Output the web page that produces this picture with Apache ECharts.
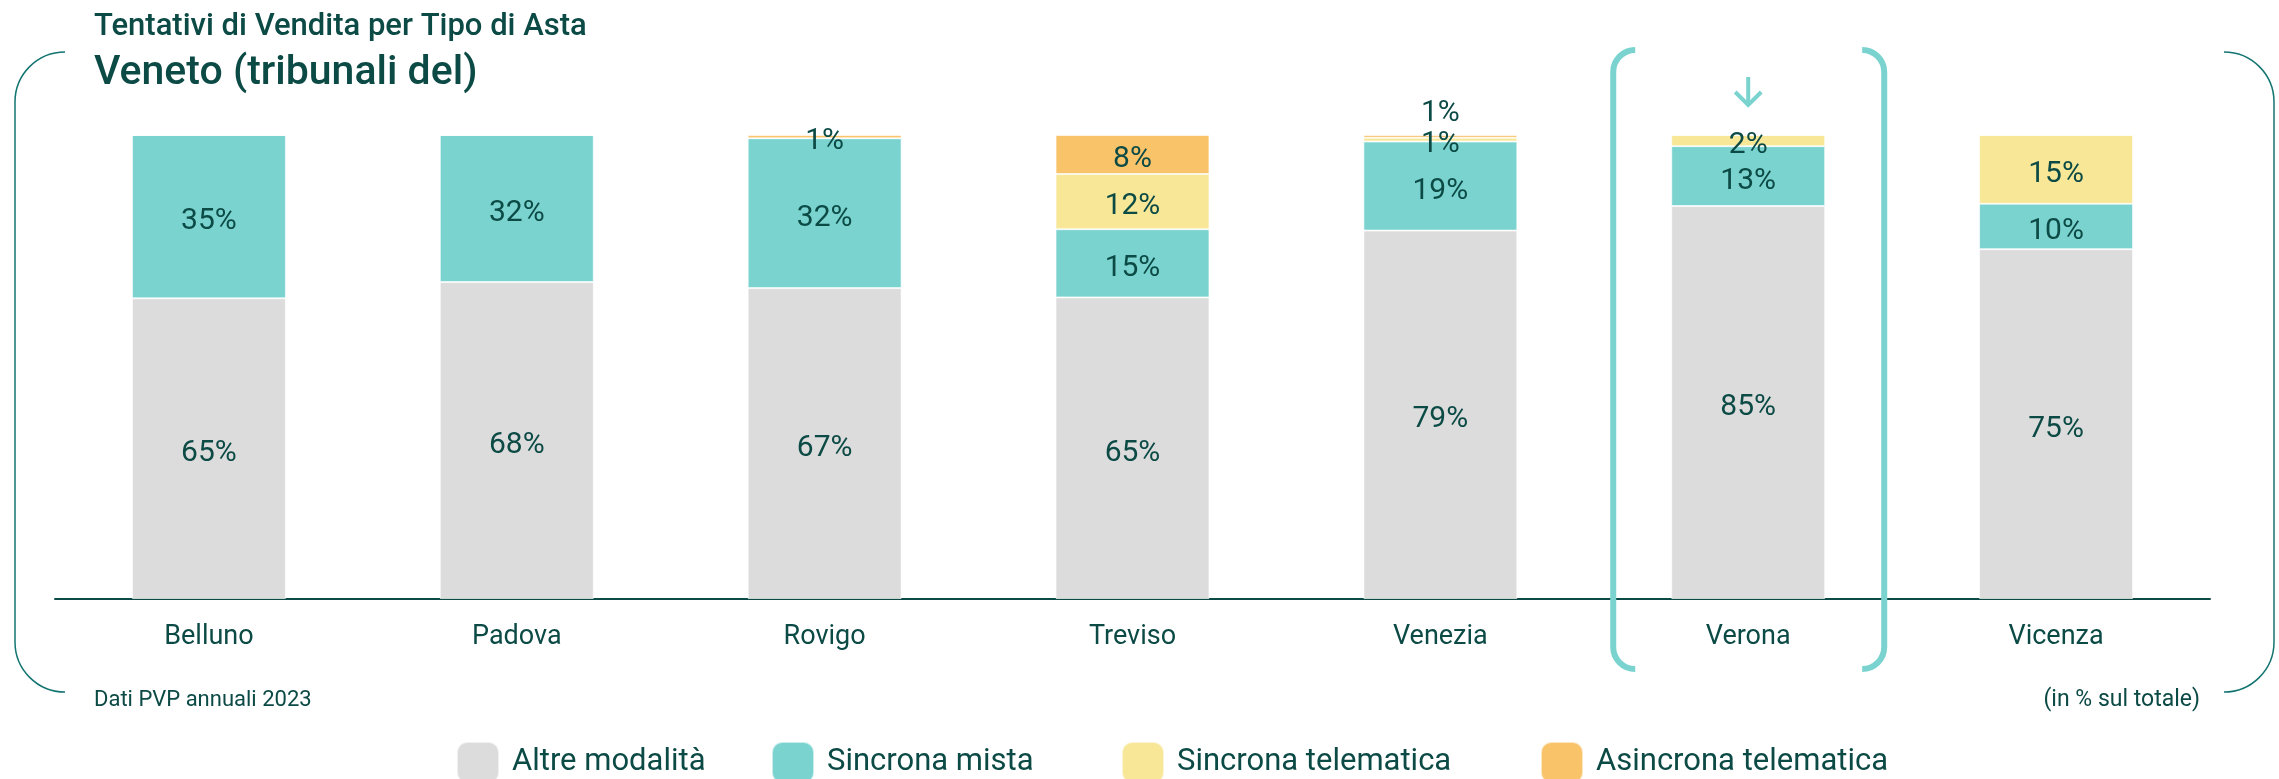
<!DOCTYPE html>
<html>
<head>
<meta charset="utf-8">
<style>
  html, body { margin: 0; padding: 0; background: #fff; }
  #chart { width: 2279px; height: 779px; }
</style>
<script src="https://cdn.jsdelivr.net/npm/echarts@6/dist/echarts.min.js"></script>
</head>
<body>
<div id="chart"></div>
<script>
// dati PVP annuali 2023, % sul totale per tribunale
var categories = ['Belluno', 'Padova', 'Rovigo', 'Treviso', 'Venezia', 'Verona', 'Vicenza'];
var altreModalita = [64.8, 68.3, 67.0, 65.0, 79.4, 84.7, 75.4];
var sincronaMista = [35.2, 31.7, 32.3, 14.7, 19.2, 12.9, 9.8];
var sincronaTelematica = [0, 0, 0, 11.9, 0.8, 2.4, 14.8];
var asincronaTelematica = [0, 0, 0.7, 8.4, 0.6, 0, 0];

var legendNames = ['Altre modalità', 'Sincrona mista', 'Sincrona telematica', 'Asincrona telematica'];
var legendLeft = [451, 766, 1116, 1535];

var highlight = 'Verona';

var TXT = '#0c4a45';
var FONT = 'Roboto, "Noto Sans", sans-serif';

var chart = echarts.init(document.getElementById('chart'));

function lbl(v) {
  return v.value ? Math.round(v.value) + '%' : '';
}

function serie(name, data, color) {
  return {
    name: name,
    type: 'bar',
    stack: 'tot',
    barWidth: '50%',
    data: data,
    itemStyle: { color: color, borderColor: 'rgba(255,255,255,0.6)', borderWidth: 1 },
    label: {
      show: true,
      position: 'inside',
      offset: [0, 5],
      formatter: lbl,
      color: TXT,
      fontFamily: FONT,
      fontSize: 30
    }
  };
}

var s4 = serie('Asincrona telematica', asincronaTelematica.slice(), '#f9c36a');
// Venezia: l'etichetta arancione va sopra la barra
s4.data[4] = {
  value: asincronaTelematica[4],
  label: { position: 'top', distance: 12 }
};

var legends = legendNames.map(function (n, i) {
  return {
    left: legendLeft[i],
    top: 736,
    icon: 'roundRect',
    itemWidth: 42,
    itemHeight: 41,
    textStyle: { color: TXT, fontFamily: FONT, fontSize: 31, padding: [0, 0, 0, 8] },
    data: [n]
  };
});

var option = {
  animation: false,
  title: [
    {
      text: 'Tentativi di Vendita per Tipo di Asta',
      left: 89, top: 7,
      textStyle: { color: TXT, fontFamily: FONT, fontSize: 31, fontWeight: 500 }
    },
    {
      text: 'Veneto (tribunali del)',
      left: 89, top: 48,
      textStyle: { color: TXT, fontFamily: FONT, fontSize: 41, fontWeight: 500 }
    },
    {
      text: 'Dati PVP annuali 2023',
      left: 89, top: 684,
      textStyle: { color: TXT, fontFamily: FONT, fontSize: 22, fontWeight: 'normal' }
    },
    {
      text: '(in % sul totale)',
      right: 74, top: 684,
      textStyle: { color: TXT, fontFamily: FONT, fontSize: 23, fontWeight: 'normal' }
    }
  ],
  legend: legends,
  grid: { left: 55, right: 69, top: 135, bottom: 180 },
  xAxis: {
    type: 'category',
    data: categories,
    axisLine: { lineStyle: { color: TXT, width: 2 } },
    axisTick: { show: false },
    axisLabel: { color: TXT, fontFamily: FONT, fontSize: 27, margin: 25 }
  },
  yAxis: {
    type: 'value',
    min: 0,
    max: 100,
    show: false,
    splitLine: { show: false }
  },
  series: [
    serie('Altre modalità', altreModalita, '#dcdcdc'),
    serie('Sincrona mista', sincronaMista, '#7ad3cf'),
    serie('Sincrona telematica', sincronaTelematica, '#f7e796'),
    s4
  ]
};

chart.setOption(option);

// cornice e evidenziazione di Verona
var cx = chart.convertToPixel({ xAxisIndex: 0 }, highlight);
var PI = Math.PI;
var thin = { stroke: '#137571', lineWidth: 1.5, fill: null };
var thick = { stroke: '#7ad3cf', lineWidth: 6, fill: null };

function arc(x, y, r, a0, a1, st) {
  return { type: 'arc', silent: true, z: 100,
    shape: { cx: x, cy: y, r: r, startAngle: a0, endAngle: a1, clockwise: true },
    style: st };
}
function seg(x1, y1, x2, y2, st) {
  return { type: 'line', silent: true, z: 100,
    shape: { x1: x1, y1: y1, x2: x2, y2: y2 }, style: st };
}

var g = [
  // cornice sottile
  arc(65, 102, 50, PI, 1.5 * PI, thin),
  seg(15, 102, 15, 642, thin),
  arc(65, 642, 50, 0.5 * PI, PI, thin),
  arc(2224, 102, 50, 1.5 * PI, 2 * PI, thin),
  seg(2274, 102, 2274, 642, thin),
  arc(2224, 642, 50, 0, 0.5 * PI, thin),
  // parentesi Verona
  arc(cx - 113, 72, 22, PI, 1.5 * PI, thick),
  seg(cx - 135, 72, cx - 135, 647, thick),
  arc(cx - 113, 647, 22, 0.5 * PI, PI, thick),
  arc(cx + 114, 72, 22, 1.5 * PI, 2 * PI, thick),
  seg(cx + 136, 72, cx + 136, 647, thick),
  arc(cx + 114, 647, 22, 0, 0.5 * PI, thick),
  // freccia
  seg(cx, 77, cx, 105, { stroke: '#7ad3cf', lineWidth: 4 }),
  { type: 'polyline', silent: true, z: 100,
    shape: { points: [[cx - 13, 92], [cx, 105], [cx + 13, 92]] },
    style: { stroke: '#7ad3cf', lineWidth: 4, fill: null } }
];

chart.setOption({ graphic: g });
</script>
</body>
</html>
